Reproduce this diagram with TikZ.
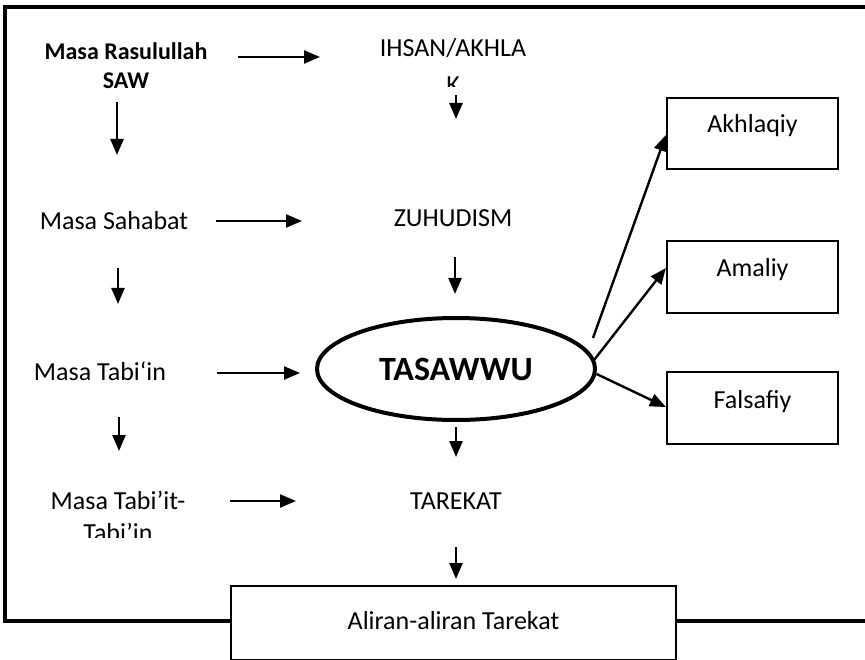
\documentclass[tikz,border=0pt]{standalone}
\usepackage{fontspec}
\setmainfont{Carlito}
\usetikzlibrary{arrows.meta,shapes.geometric}
\begin{document}
\begin{tikzpicture}[x=1pt,y=-1pt,
  txt/.style={inner sep=0pt, anchor=base, font=\fontsize{26}{32}\selectfont},
  btxt/.style={inner sep=0pt, anchor=base, font=\fontsize{24}{29}\selectfont\bfseries},
  arr/.style={line width=2.4pt, -{Triangle[length=16pt,width=13pt]}},
  sbox/.style={draw, line width=2.2pt, inner sep=0pt},
  frame/.style={line width=4.5pt}
]
\useasboundingbox (0,0) rectangle (865,660);
% outer frame (open on the right)
\draw[frame] (865,7) -- (5,7) -- (5,621) -- (231,621);
\draw[frame] (676,621) -- (865,621);

% left column
\node[btxt] (ras1) at (126,60) {Masa Rasulullah};
\node[btxt] (ras2) at (126,89) {SAW};
\node[txt] (sah) at (114,230) {Masa Sahabat};
\node[txt] (tab) at (100,381) {Masa Tabi‘in};
\node[txt] (tt1) at (118,509) {Masa Tabi’it-};
\begin{scope}
\clip (0,500) rectangle (300,537);
\node[txt] (tt2) at (118,541) {Tabi’in};
\end{scope}

% middle column
\node[txt] (ihs1) at (453,57) {IHSAN/AKHLA};
\begin{scope}
\clip (300,60) rectangle (600,87);
\node[txt] (ihs2) at (453,94) {K};
\end{scope}
\node[txt] (zuh) at (453,227) {ZUHUDISM};
\node[draw, ellipse, line width=4pt, minimum width=278pt, minimum height=102pt, inner sep=0pt] (tas) at (456,369) {};
\node[inner sep=0pt, font=\fontsize{34}{40}\selectfont\bfseries] (tast) at (456,369) {TASAWWU};
\node[txt] (tar) at (456,509) {TAREKAT};

% right boxes
\node[sbox, minimum width=171pt, minimum height=71pt] (akh) at (752.5,133.5) {};
\node[txt] (akht) at (752.5,133) {Akhlaqiy};
\node[sbox, minimum width=171pt, minimum height=72pt] (ama) at (752.5,277) {};
\node[txt] (amat) at (752.5,277) {Amaliy};
\node[sbox, minimum width=171pt, minimum height=72pt] (fal) at (752.5,408) {};
\node[txt] (falt) at (752.5,408) {Falsafiy};

% bottom box
\node[sbox, minimum width=445pt, minimum height=74pt] (ali) at (453.5,623) {};
\node[txt] (alit) at (453.5,629) {Aliran-aliran Tarekat};

% connector end points
\coordinate (a1s) at (238,57);  \coordinate (a1e) at (320,57);
\coordinate (a2s) at (216,221); \coordinate (a2e) at (302,221);
\coordinate (a3s) at (217,373); \coordinate (a3e) at (300,373);
\coordinate (a4s) at (230,501); \coordinate (a4e) at (296,501);
\coordinate (d1s) at (117,102); \coordinate (d1e) at (117,155);
\coordinate (d2s) at (118,268); \coordinate (d2e) at (118,304);
\coordinate (d3s) at (119,417); \coordinate (d3e) at (119,451);
\coordinate (d4s) at (456,95);  \coordinate (d4e) at (456,119);
\coordinate (d5s) at (455,257); \coordinate (d5e) at (455,294);
\coordinate (d6s) at (456,427); \coordinate (d6e) at (456,457);
\coordinate (d7s) at (456,547); \coordinate (d7e) at (456,579);
\coordinate (akhs) at (593,338);

\draw[arr] (a1s) -- (a1e);
\draw[arr] (a2s) -- (a2e);
\draw[arr] (a3s) -- (a3e);
\draw[arr] (a4s) -- (a4e);
\draw[arr] (d1s) -- (d1e);
\draw[arr] (d2s) -- (d2e);
\draw[arr] (d3s) -- (d3e);
\draw[arr] (d4s) -- (d4e);
\draw[arr] (d5s) -- (d5e);
\draw[arr] (d6s) -- (d6e);
\draw[arr] (d7s) -- (d7e);
\draw[arr] (akhs) -- (akh.south west |- 0,135) ;
\draw[arr] (tas.4) -- (ama.west |- 0,268);
\draw[arr] (tas.-2) -- (fal.west |- 0,407);
\end{tikzpicture}
\end{document}
